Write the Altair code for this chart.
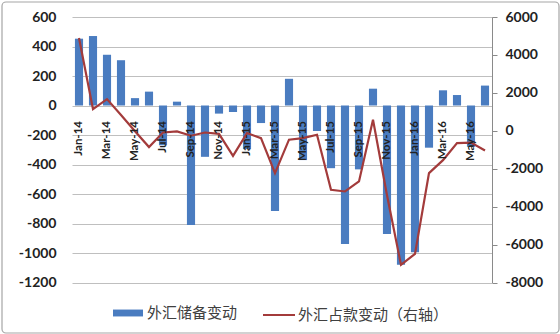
import altair as alt
import pandas as pd

months = ["Jan-14", "Feb-14", "Mar-14", "Apr-14", "May-14", "Jun-14", "Jul-14", "Aug-14",
          "Sep-14", "Oct-14", "Nov-14", "Dec-14", "Jan-15", "Feb-15", "Mar-15", "Apr-15",
          "May-15", "Jun-15", "Jul-15", "Aug-15", "Sep-15", "Oct-15", "Nov-15", "Dec-15",
          "Jan-16", "Feb-16", "Mar-16", "Apr-16", "May-16", "Jun-16"]
reserve_change = [453, 471, 344, 307, 50, 94, -270, 26, -811, -348, -55, -44, -296, -119, -715,
                  181, -370, -173, -425, -939, -433, 114, -872, -1079, -995, -286, 103, 71, -280, 135]
fx_funds_change = [4890, 1140, 1670, 830, -20, -860, -90, -30, -260, -90, -160, -1320, -120, -390,
                   -2230, -470, -390, -210, -3110, -3200, -2670, 580, -3400, -7070, -6490, -2230,
                   -1550, -650, -620, -1040]
left_ticks = [-1200, -1000, -800, -600, -400, -200, 0, 200, 400, 600]
right_ticks = [-8000, -6000, -4000, -2000, 0, 2000, 4000, 6000]
x_labels = months[::2]
bar_name = "外汇储备变动"
line_name = "外汇占款变动（右轴）"

df = pd.DataFrame({"month": months, "reserve": reserve_change, "funds": fx_funds_change,
                   "s1": bar_name, "s2": line_name})

W, H = 420, 265.5
zero_offset = -(H - H * 600 / 1800)

x_enc = alt.X("month:N", sort=months, title=None,
              scale=alt.Scale(paddingInner=0.42, paddingOuter=0.21),
              axis=alt.Axis(values=x_labels, labelAngle=270, orient="bottom", offset=zero_offset,
                            domain=False, ticks=False, labelPadding=15, labelFont="Lato",
                            labelFontWeight="bold", labelFontSize=11.5, labelColor="#222222",
                            zindex=1))

bars = alt.Chart(df).mark_bar(color="#4a7cc0").encode(
    x=x_enc,
    y=alt.Y("reserve:Q", title=None,
            scale=alt.Scale(domain=[-1200, 600], nice=False, zero=False),
            axis=alt.Axis(values=left_ticks, orient="left", grid=True, gridColor="#bfbfbf",
                          domain=False, ticks=False, labelPadding=16, labelFont="Lato",
                          labelFontWeight="bold", labelFontSize=14, labelColor="#222222",
                          labelExpr="datum.value + ''")),
    color=alt.Color("s1:N", scale=alt.Scale(range=["#4a7cc0"]),
                    legend=alt.Legend(title=None, orient="none", legendX=41, legendY=281,
                                      symbolType="M-1,-0.23H1V0.23H-1Z", symbolSize=900,
                                      symbolStrokeWidth=0, labelFont="Noto Sans CJK SC",
                                      labelFontSize=15, labelColor="#404040", labelOffset=4)),
)

line = alt.Chart(df).mark_line(strokeWidth=2.2, color="#a33b3b").encode(
    x=x_enc,
    y=alt.Y("funds:Q", title=None,
            scale=alt.Scale(domain=[-8000, 6000], nice=False, zero=False),
            axis=alt.Axis(values=right_ticks, orient="right", grid=False, domain=True,
                          domainColor="#8a8a8a", tickColor="#8a8a8a", tickSize=5,
                          labelPadding=8, labelFont="Lato", labelFontWeight="bold",
                          labelFontSize=14, labelColor="#222222",
                          labelExpr="datum.value + ''")),
    stroke=alt.Stroke("s2:N", scale=alt.Scale(range=["#a33b3b"]),
                      legend=alt.Legend(title=None, orient="none", legendX=190, legendY=281,
                                        symbolType="stroke", symbolSize=1024,
                                        symbolStrokeWidth=2, labelFont="Noto Sans CJK SC",
                                        labelFontSize=15, labelColor="#404040", labelOffset=2)),
)

border = alt.Chart(pd.DataFrame({"a": [0]})).mark_rect(
    fill=None, stroke="#a6a6a6", strokeWidth=1.2, cornerRadius=4, clip=False
).encode(x=alt.value(-70), x2=alt.value(487), y=alt.value(-15), y2=alt.value(316))

chart = alt.layer(bars, line, border).resolve_scale(y="independent").properties(
    width=W, height=H,
    autosize=alt.AutoSizeParams(type="none"),
    padding={"left": 72, "top": 17, "right": 68, "bottom": 334 - 17 - H},
    background="white",
).configure_view(stroke=None)

chart.save("out.html", embed_options={"renderer": "svg", "actions": False})
